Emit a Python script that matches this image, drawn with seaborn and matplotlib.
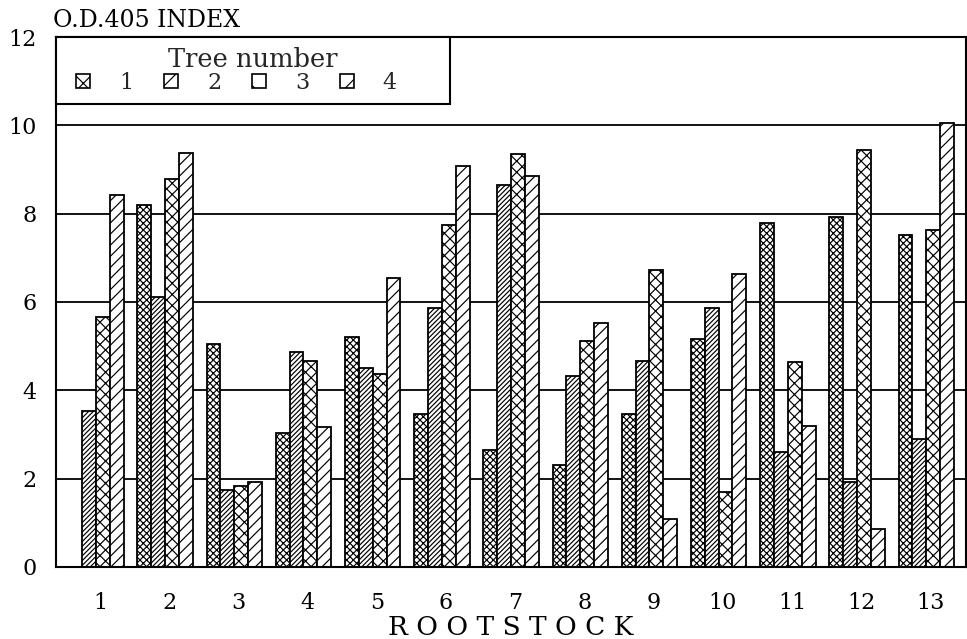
import numpy as np
import pandas as pd
import matplotlib
matplotlib.use('Agg')
import matplotlib.pyplot as plt
import seaborn as sns
from matplotlib.patches import Patch, Rectangle
from matplotlib.legend_handler import HandlerPatch

# --- data ---
rootstocks = [str(i) for i in range(1, 14)]
trees = ['1', '2', '3', '4']

tree1 = [np.nan, 8.19, 5.05, 3.04, 5.21, 3.45, 2.64, 2.30, 3.45, 5.16, 7.79, 7.92, 7.52]
tree2 = [3.53, 6.12, 1.73, 4.86, 4.51, 5.87, 8.65, 4.33, 4.66, 5.86, 2.60, 1.92, 2.89]
tree3 = [5.65, 8.79, 1.84, 4.66, 4.36, 7.75, 9.36, 5.11, 6.73, 1.69, 4.65, 9.44, 7.62]
tree4 = [8.43, 9.38, 1.92, 3.17, 6.55, 9.09, 8.86, 5.53, 1.08, 6.63, 3.18, 0.86, 10.05]

hatches = ['xxxxx', '///////', 'xxx', '///']

df = pd.DataFrame({
    'rootstock': rootstocks * 4,
    'tree': sum([[t] * len(rootstocks) for t in trees], []),
    'od': tree1 + tree2 + tree3 + tree4,
}).dropna()

# --- style ---
sns.set_theme(style='white')
plt.rcParams['font.family'] = ['DejaVu Serif']
plt.rcParams['hatch.linewidth'] = 0.85
plt.rcParams['hatch.color'] = 'black'

fig, ax = plt.subplots(figsize=(9.67, 6.39), dpi=100)
fig.subplots_adjust(left=0.058, right=0.999, top=0.942, bottom=0.113)

sns.barplot(data=df, x='rootstock', y='od', hue='tree', order=rootstocks,
            hue_order=trees, palette=['white'] * 4, edgecolor='black',
            linewidth=1.3, errorbar=None, width=0.8, legend=False, ax=ax)

for cont, h in zip(ax.containers, hatches):
    for bar in cont:
        bar.set_hatch(h)

ax.set_axisbelow(True)
ax.yaxis.grid(True, color='black', linewidth=1.3)
ax.xaxis.grid(False)

ax.set_xlim(-0.575, 12.575)
ax.set_ylim(0, 12)
ax.set_yticks(range(0, 13, 2))
ax.set_xticks(np.arange(len(rootstocks)) + 0.06, rootstocks)
ax.tick_params(axis='x', length=11, width=1.3, direction='out', pad=7,
               labelsize=16, colors='black')
ax.tick_params(axis='y', length=0, pad=14, labelsize=16, colors='black')

for sp in ax.spines.values():
    sp.set_visible(True)
    sp.set_color('black')
    sp.set_linewidth(1.5)

ax.set_ylabel('')
ax.set_xlabel('R O O T S T O C K', fontsize=19, labelpad=1, color='black')
ax.text(-0.003, 1.019, 'O.D.405 INDEX', transform=ax.transAxes, ha='left',
        va='baseline', fontsize=17, color='black')


# small square swatch centred in a wider handle box
def square_swatch(legend, orig_handle, xdescent, ydescent, width, height, fontsize):
    side = height
    return Rectangle((-xdescent + (width - side) / 2, -ydescent), side, side)


handles = [Patch(facecolor='white', edgecolor='black', hatch=h, linewidth=1.2)
           for h in ['xx', '//', '\\', '/']]
labels = trees[:-1] + [trees[-1] + '      ']
leg = ax.legend(handles=handles, labels=labels, title='Tree number',
                ncol=4, loc='upper left', bbox_to_anchor=(0, 1),
                borderaxespad=0, frameon=True, fancybox=False,
                edgecolor='black', framealpha=1, fontsize=16,
                title_fontsize=18.5, handlelength=1.5, handleheight=0.6,
                handletextpad=0.88, columnspacing=0.95, borderpad=0.45,
                labelspacing=0.0,
                handler_map={Patch: HandlerPatch(patch_func=square_swatch)})
leg.get_frame().set_linewidth(1.5)

plt.savefig('out.png', dpi=100)
plt.close()
